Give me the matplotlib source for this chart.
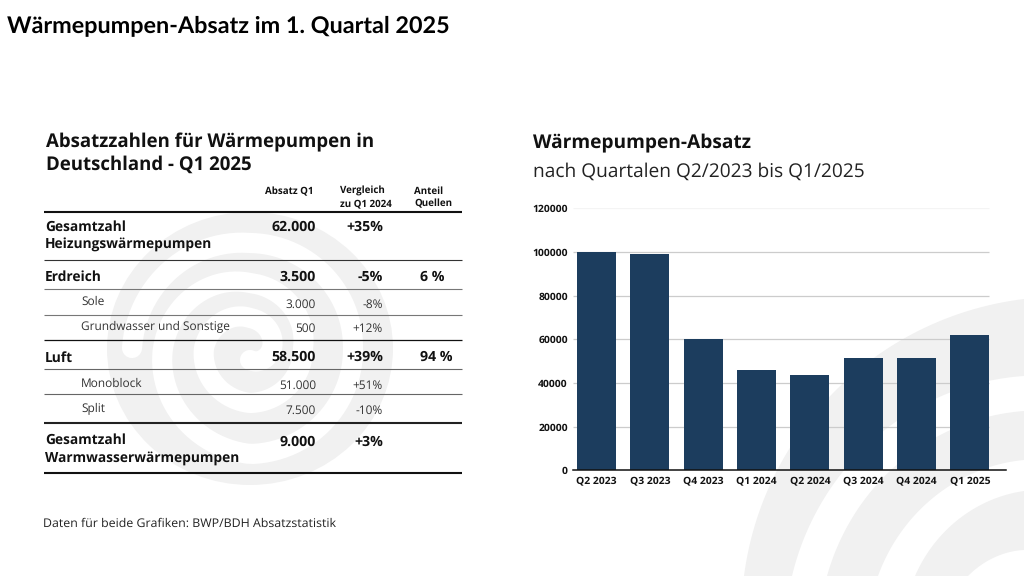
#!/usr/bin/env python3
"""Waermepumpen-Absatz slide: sales table on the left, quarterly bars on the right."""

import numpy as np
import matplotlib
matplotlib.use("Agg")
import matplotlib.pyplot as plt
from matplotlib.patches import Ellipse

plt.rcParams["font.family"] = ["Open Sans", "DejaVu Sans"]
plt.rcParams["text.hinting"] = "none"

# ── Bar chart data ──────────────────────────────────────────────────────────
quarters = ["Q2 2023", "Q3 2023", "Q4 2023", "Q1 2024",
            "Q2 2024", "Q3 2024", "Q4 2024", "Q1 2025"]
absatz = [100000, 99000, 60000, 46000, 43500, 51500, 51500, 62000]
y_ticks = [0, 20000, 40000, 60000, 80000, 100000, 120000]

# ── Table data ──────────────────────────────────────────────────────────────
row_labels = ["Gesamtzahl\nHeizungswärmepumpen", "Erdreich", "Sole",
              "Grundwasser und Sonstige", "Luft", "Monoblock", "Split",
              "Gesamtzahl\nWarmwasserwärmepumpen"]
row_absatz = ["62.000", "3.500", "3.000", "500", "58.500", "51.000", "7.500", "9.000"]
row_change = ["+35%", "-5%", "-8%", "+12%", "+39%", "+51%", "-10%", "+3%"]
row_share = ["", "6 %", "", "", "94 %", "", "", ""]
row_bold = [True, True, False, False, True, False, False, True]

# baselines in slide pixels: label, values
label_y = [231, 281, 305, 330, 361.5, 387, 412, 444]
value_y = [231, 281, 307.5, 332, 360.5, 389, 414, 445.5]

# rules in slide pixels: y, width, colour
rules = [(212, 1.5, "#111111"), (259.5, 0.8, "#333333"), (289, 0.8, "#777777"),
         (314.5, 0.8, "#777777"), (339.5, 0.9, "#111111"), (369, 0.8, "#666666"),
         (394, 0.8, "#666666"), (422.5, 1.5, "#222222"), (472.5, 1.5, "#111111")]

GREY = "#f1f1f1"
BAR = "#1c3d5e"
TEXT = "#111111"

fig = plt.figure(figsize=(10.24, 5.76), dpi=100, facecolor="white")

# page axes in pixel coordinates, for the decoration and the table
page = fig.add_axes([0, 0, 1, 1], zorder=0)
page.set_xlim(0, 1024)
page.set_ylim(576, 0)
page.axis("off")

CX, CY = 1060, 620


def spiral_edge(p0, p1):
    """Spiral curve around (CX, CY) through two slide points, run on past both ends."""
    t = np.linspace(-0.4, 1.4, 200)
    r0, r1 = np.hypot(p0[0] - CX, p0[1] - CY), np.hypot(p1[0] - CX, p1[1] - CY)
    a0 = np.arctan2(p0[1] - CY, p0[0] - CX) % (2 * np.pi)
    a1 = np.arctan2(p1[1] - CY, p1[0] - CX) % (2 * np.pi)
    r = r0 + (r1 - r0) * t
    a = a0 + (a1 - a0) * t
    return CX + r * np.cos(a), CY + r * np.sin(a)


def spiral_band(outer, inner):
    ox, oy = spiral_edge(*outer)
    ix, iy = spiral_edge(*inner)
    page.fill(np.r_[ox, ix[::-1]], np.r_[oy, iy[::-1]], color=GREY, lw=0, zorder=1)


# ── Swirl behind the table: grey disc with a white spiral cut out ───────────
page.add_patch(Ellipse((250, 348.5), 286, 273, color=GREY, lw=0, zorder=1))
turn = np.linspace(0, 2.75, 300)
swirl_r = np.interp(turn, [0, 0.25, 0.5, 0.75, 1.0, 1.25, 1.5, 1.75, 2.0, 2.25, 2.5, 2.75],
                    [118, 105, 103, 106, 87, 65, 53, 55, 46, 30, 22, 12])
swirl_a = np.radians(180 + 360 * turn)
page.plot(250 + swirl_r * np.cos(swirl_a), 348 + swirl_r * np.sin(swirl_a),
          color="white", lw=14.5, solid_capstyle="round", zorder=2)

# ── Big swirl bottom right ──────────────────────────────────────────────────
spiral_band(((744, 576), (1024, 299)), ((792, 576), (1024, 376)))
spiral_band(((827, 576), (1024, 411)), ((878, 576), (1024, 460)))
spiral_band(((915, 576), (1024, 491)), ((968, 576), (1024, 550)))

# ── Titles ──────────────────────────────────────────────────────────────────
page.text(7, 32, "Wärmepumpen-Absatz im 1. Quartal 2025", family="Lato",
          fontweight="bold", fontsize=16.8, color="black", va="baseline", zorder=5)
page.text(46, 147.5, "Absatzzahlen für Wärmepumpen in", fontweight="bold",
          fontsize=13.4, color=TEXT, va="baseline", zorder=5)
page.text(46, 170, "Deutschland - Q1 2025", fontweight="bold",
          fontsize=13.4, color=TEXT, va="baseline", zorder=5)
page.text(533, 148, "Wärmepumpen-Absatz", fontweight="bold",
          fontsize=13.8, color=TEXT, va="baseline", zorder=5)
page.text(533, 176.5, "nach Quartalen Q2/2023 bis Q1/2025",
          fontsize=13.8, color="#222222", va="baseline", zorder=5)

# ── Table ───────────────────────────────────────────────────────────────────
for txt, x, y in [("Absatz Q1", 265, 194), ("Vergleich", 339.5, 194),
                  ("zu Q1 2024", 339.5, 206.5), ("Anteil", 414, 194),
                  ("Quellen", 414, 206.5)]:
    page.text(x, y, txt, fontweight="bold", fontsize=7.0, color=TEXT, zorder=5)

for y, lw, col in rules:
    page.plot([44, 462], [y, y], color=col, lw=lw, solid_capstyle="butt", zorder=4)

for i, label in enumerate(row_labels):
    bold = row_bold[i]
    weight = "bold" if bold else "normal"
    size = 9.9 if bold else 8.6
    col = TEXT if bold else "#333333"
    lines = label.split("\n")
    for j, part in enumerate(lines):
        page.text(45 if bold else 81, label_y[i] + j * 17.5, part, fontweight=weight,
                  fontsize=size, color=col, zorder=5)
    page.text(316, value_y[i], row_absatz[i], ha="right", fontweight=weight,
              fontsize=size + 0.3 if bold else size, color=col, zorder=5)
    page.text(383, value_y[i], row_change[i], ha="right", fontweight=weight,
              fontsize=size + 0.3 if bold else size, color=col, zorder=5)
    if row_share[i]:
        page.text(420, value_y[i], row_share[i], fontweight=weight,
                  fontsize=size + 0.3, color=col, zorder=5)

page.text(43, 527, "Daten für beide Grafiken: BWP/BDH Absatzstatistik",
          fontsize=8.9, color="#222222", zorder=5)

# ── Bar chart ───────────────────────────────────────────────────────────────
ax = fig.add_axes([572.7 / 1024, (576 - 470.3) / 576, 433 / 1024, 262 / 576], zorder=1)
ax.patch.set_alpha(0)
x = np.arange(len(quarters))
ax.set_xlim(-0.446, 7.67)
ax.set_ylim(0, 120000)

bar_w = 0.73
grid_cols = ["#cccccc"] * 6 + ["#f4f4f4"]
ax.hlines(y_ticks[1:], -0.446, x[-1] + bar_w / 2, colors=grid_cols[1:], lw=0.9, zorder=1)
ax.bar(x, absatz, width=bar_w, color=BAR, zorder=2)

ax.set_xticks(x, quarters)
ax.set_yticks(y_ticks, [str(v) for v in y_ticks])
ax.tick_params(axis="both", length=0, labelsize=7.5, colors=TEXT)
ax.tick_params(axis="x", pad=4)
ax.tick_params(axis="y", pad=3.5)
for lbl in ax.get_xticklabels() + ax.get_yticklabels():
    lbl.set_fontweight("bold")

for side in ["top", "right", "left"]:
    ax.spines[side].set_visible(False)
ax.spines["bottom"].set_color("#111111")
ax.spines["bottom"].set_linewidth(1.1)

fig.savefig("out.png", dpi=100, facecolor=fig.get_facecolor())
plt.close(fig)
